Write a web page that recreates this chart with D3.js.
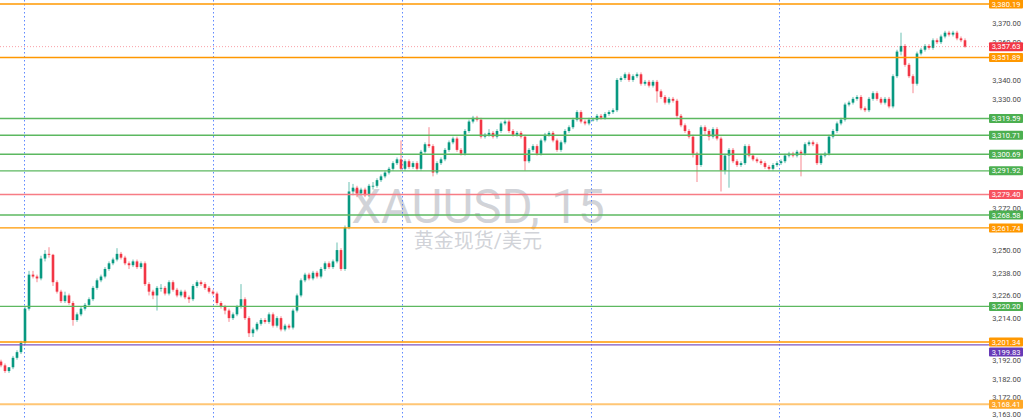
<!DOCTYPE html>
<html>
<head>
<meta charset="utf-8">
<script src="https://cdn.jsdelivr.net/npm/d3@7/dist/d3.min.js"></script>
<style>
  html, body { margin: 0; padding: 0; background: #ffffff; }
  svg { display: block; }
</style>
</head>
<body>
<div id="chart"></div>
<script>
// ---------------- DATA ----------------
const symbolTitle = "XAUUSD, 15";
const symbolSubtitle = "黄金现货/美元";

const opens = [
3191,3189,3186,3188,3193,3196,3201,3219,3237,3236,
3235,3245.5,3248,3247.5,3233,3228,3223,3226,3222,3213,
3216,3219,3221,3224,3230,3234,3236,3240,3243,3245,
3248,3246,3243,3242,3244,3241,3243,3232,3228,3226,
3230,3230,3227,3233,3229,3226,3228,3225,3224,3231,
3233,3232,3230,3228,3227,3222,3220,3218,3214,3216,
3220,3224,3214,3206,3208,3211,3213,3212,3216,3210,
3214,3208,3210,3209,3218,3226,3234,3237,3235,3238,
3236,3240,3243,3241,3244,3250,3240,3262,3281,3283,
3280,3282,3279,3284,3284,3287,3289,3291,3293,3296,
3298,3293,3297,3294,3296,3293,3302,3306,3305,3291,
3296,3298,3303,3307,3309,3303,3301,3313,3318,3320,
3319,3310,3311,3312,3310,3313,3317,3318,3313,3311,
3312,3310,3297,3303,3305,3301,3308,3311,3312,3308,
3303,3307,3313,3315,3319,3323,3318,3317,3319,3319,
3321,3320,3322,3323,3324,3340,3341,3343,3340,3342,
3343,3338,3339,3337,3339,3334,3331,3328,3330,3329,
3321,3316,3313,3310,3301,3295,3315,3313,3310,3314,
3309,3292,3300,3303,3297,3295,3296,3305,3300,3298,
3297,3296,3294,3293,3295,3296,3297,3300,3301,3300,
3302,3301,3306,3307,3306,3296,3300,3301,3310,3313,
3317,3319,3327,3328,3330,3331,3325,3324,3330,3333,
3330,3328,3330,3326,3342,3355,3358,3348,3342,3338,
3354,3356,3358,3357,3361,3360,3363,3365,3364,3365,
3362,3361];

const highs = [
3192,3190,3188,3194,3197,3202,3220,3239,3239,3237,
3247,3250,3251.5,3248,3234,3229,3228,3227,3223,3217,
3220,3222,3225,3231,3235,3237,3241,3244,3246,3251,
3249,3247,3244,3245,3245,3244,3244,3233,3229,3231,
3232,3231,3234,3234,3230,3229,3229,3226,3232,3234,
3234,3233,3231,3229,3228,3223,3221,3219,3217,3221,
3232,3225,3215,3209,3212,3214,3214,3217,3217,3215,
3215,3211,3211,3219,3227,3235,3238,3238,3239,3239,
3241,3244,3244,3245,3254,3251,3263,3286,3285,3284,
3283,3283,3285,3286,3288,3290,3292,3294,3297,3299,
3308,3298,3298,3297,3297,3303,3307,3315,3306,3297,
3299,3304,3308,3310,3310,3304,3314,3319,3321,3321,
3320,3312,3314,3313,3314,3318,3319,3319,3314,3313,
3313,3311,3304,3306,3306,3309,3312,3313,3313,3309,
3308,3314,3316,3320,3324,3324,3319,3320,3320,3322,
3322,3323,3324,3325,3341,3342,3344,3344,3343,3344,
3344,3340,3340,3340,3340,3335,3332,3331,3331,3330,
3322,3317,3314,3311,3302,3316,3316,3314,3315,3315,
3310,3301,3304,3304,3298,3297,3306,3306,3301,3299,
3298,3297,3295,3296,3297,3298,3301,3302,3302,3303,
3303,3307,3308,3308,3307,3301,3302,3311,3314,3318,
3320,3328,3329,3331,3332,3332,3326,3331,3334,3334,
3331,3331,3331,3343,3356,3365,3359,3349,3343,3355,
3357,3359,3359,3362,3362,3364,3366,3366,3366,3366,
3363,3362];

const lows = [
3188,3185,3185,3187,3192,3195,3200,3218,3235,3233,
3234,3244,3246,3231,3227,3222,3222,3221,3210,3212,
3215,3218,3220,3223,3229,3233,3235,3239,3242,3244,
3245,3242,3240,3241,3240,3240,3231,3226,3224,3218,
3228,3226,3226,3228,3225,3225,3224,3222,3223,3230,
3231,3229,3227,3226,3221,3219,3216,3212,3213,3215,
3219,3213,3204,3204,3207,3210,3211,3211,3209,3209,
3207,3207,3208,3208,3217,3225,3233,3234,3234,3235,
3235,3239,3240,3240,3243,3239,3239,3261,3279,3278,
3279,3278,3278,3282,3283,3286,3288,3290,3292,3295,
3292,3292,3293,3293,3292,3292,3301,3304,3289,3290,
3295,3297,3302,3306,3302,3300,3300,3312,3317,3318,
3309,3309,3310,3309,3309,3312,3316,3312,3310,3310,
3309,3292,3296,3302,3300,3300,3307,3310,3307,3302,
3302,3306,3312,3314,3318,3317,3316,3316,3318,3318,
3319,3319,3321,3322,3323,3339,3340,3339,3339,3341,
3337,3337,3336,3336,3328,3330,3327,3327,3328,3320,
3315,3312,3309,3299,3286,3294,3311,3308,3309,3308,
3281,3290,3283,3296,3294,3294,3295,3299,3297,3296,
3295,3293,3292,3292,3294,3295,3296,3299,3299,3299,
3289,3300,3305,3305,3295,3295,3299,3300,3309,3312,
3316,3318,3326,3327,3329,3324,3323,3323,3329,3329,
3327,3327,3325,3325,3341,3353,3347,3341,3333,3337,
3353,3355,3356,3356,3359,3359,3362,3363,3363,3361,
3360,3357];

const closes = [
3189,3186,3188,3193,3196,3201,3219,3237,3236,3235,
3245.5,3248,3247.5,3233,3228,3223,3226,3222,3213,3216,
3219,3221,3224,3230,3234,3236,3240,3243,3245,3248,
3246,3243,3242,3244,3241,3243,3232,3228,3226,3230,
3230,3227,3233,3229,3226,3228,3225,3224,3231,3233,
3232,3230,3228,3227,3222,3220,3218,3214,3216,3220,
3224,3214,3206,3208,3211,3213,3212,3216,3210,3214,
3208,3210,3209,3218,3226,3234,3237,3235,3238,3236,
3240,3243,3241,3244,3250,3240,3262,3281,3283,3280,
3282,3279,3284,3284,3287,3289,3291,3293,3296,3298,
3293,3297,3294,3296,3293,3302,3306,3305,3291,3296,
3298,3303,3307,3309,3303,3301,3313,3318,3320,3319,
3310,3311,3312,3310,3313,3317,3318,3313,3311,3312,
3310,3297,3303,3305,3301,3308,3311,3312,3308,3303,
3307,3313,3315,3319,3323,3318,3317,3319,3319,3321,
3320,3322,3323,3324,3340,3341,3343,3340,3342,3343,
3338,3339,3337,3339,3334,3331,3328,3330,3329,3321,
3316,3313,3310,3301,3295,3315,3313,3310,3314,3309,
3292,3300,3303,3297,3295,3296,3305,3300,3298,3297,
3296,3294,3293,3295,3296,3297,3300,3301,3300,3302,
3301,3306,3307,3306,3296,3300,3301,3310,3313,3317,
3319,3327,3328,3330,3331,3325,3324,3330,3333,3330,
3328,3330,3326,3342,3355,3358,3348,3342,3338,3354,
3356,3358,3357,3361,3360,3363,3365,3364,3365,3362,
3361,3357.63];

// horizontal price levels (drawn lines) and their kinds
const levelValues = [3380.19, 3351.89, 3319.59, 3310.71, 3300.69, 3291.92, 3279.40, 3268.58, 3261.74, 3220.20, 3201.34, 3199.83, 3168.41];
const levelKinds  = ["orange", "orange", "green", "green", "green", "green", "red", "green", "orange", "green", "orange", "purple", "lightorange"];

const lastPrice = 3357.63;

// price-axis tick labels
const tickValues = [3370, 3360, 3340, 3330, 3272, 3250, 3238, 3226, 3214, 3192, 3182, 3172, 3163];

// time grid positions (in bar index units)
const timeGridIdx = [5.83, 53.0, 100.2, 147.5, 194.6];

// ---------------- DRAWING ----------------
const W = 1024, H = 420;
const plotRight = 989;
const FONT = "Roboto, 'Noto Sans', 'Noto Sans CJK SC', sans-serif";

const kindColor = {
  orange: "#ff9800",
  lightorange: "#ffa726",
  green: "#4caf50",
  red: "#f7525f",
  purple: "#673ab7"
};
const kindLine = {
  orange: "#ff9800",
  lightorange: "#ffc675",
  green: "#5cb860",
  red: "#f77c85",
  purple: "#7e57c2"
};

const svg = d3.select("#chart").append("svg")
  .attr("width", W).attr("height", H)
  .style("font-family", FONT);

svg.append("rect").attr("width", W).attr("height", H).attr("fill", "#ffffff");

const y = d3.scaleLinear().domain([3160.1, 3382.3]).range([H, 0]);
const x = d3.scaleLinear().domain([0, closes.length - 1]).range([1, 965]);

const candles = closes.map((c, i) => ({ i, o: opens[i], h: highs[i], l: lows[i], c }));

// watermark
svg.append("text")
  .attr("x", 478).attr("y", 223)
  .attr("text-anchor", "middle")
  .attr("font-size", 47.5)
  .attr("fill", "#c9cbd1")
  .attr("fill-opacity", 0.85)
  .text(symbolTitle);
svg.append("text")
  .attr("x", 478).attr("y", 248)
  .attr("text-anchor", "middle")
  .attr("font-size", 20)
  .attr("fill", "#c9cbd1")
  .attr("fill-opacity", 0.85)
  .text(symbolSubtitle);

// vertical time grid (dotted blue)
svg.append("g").selectAll("line").data(timeGridIdx).join("line")
  .attr("x1", d => Math.round(x(d)) + 0.5).attr("x2", d => Math.round(x(d)) + 0.5)
  .attr("y1", 0).attr("y2", H)
  .attr("stroke", "#2962ff")
  .attr("stroke-opacity", 0.75)
  .attr("stroke-width", 1)
  .attr("stroke-dasharray", "1.5,2.5");

// candles
const up = "#089981", down = "#f23645";
const cg = svg.append("g");
const bodyW = 2.6;
cg.selectAll("line.wick").data(candles).join("line")
  .attr("class", "wick")
  .attr("x1", d => x(d.i)).attr("x2", d => x(d.i))
  .attr("y1", d => y(d.h)).attr("y2", d => y(d.l))
  .attr("stroke", d => d.c >= d.o ? up : down)
  .attr("stroke-opacity", 0.75)
  .attr("stroke-width", 0.8);
cg.selectAll("rect.body").data(candles).join("rect")
  .attr("class", "body")
  .attr("x", d => x(d.i) - bodyW / 2)
  .attr("width", bodyW)
  .attr("y", d => y(Math.max(d.o, d.c)))
  .attr("height", d => Math.max(0.8, Math.abs(y(d.o) - y(d.c))))
  .attr("fill", d => d.c >= d.o ? up : down);

// horizontal level lines
const levels = levelValues.map((v, k) => ({ v, kind: levelKinds[k] }));
svg.append("g").selectAll("line").data(levels).join("line")
  .attr("x1", 0).attr("x2", plotRight)
  .attr("y1", d => y(d.v)).attr("y2", d => y(d.v))
  .attr("stroke", d => kindLine[d.kind])
  .attr("stroke-width", d => d.kind === "lightorange" ? 2 : 1.4);

// current price dotted line
svg.append("line")
  .attr("x1", 0).attr("x2", plotRight)
  .attr("y1", y(lastPrice)).attr("y2", y(lastPrice))
  .attr("stroke", "#f23645")
  .attr("stroke-opacity", 0.6)
  .attr("stroke-width", 0.8)
  .attr("stroke-dasharray", "1,2");

// axis tick labels
const fmt = d3.format(",.2f");
const axisG = svg.append("g").attr("transform", `translate(${W - 3},0)`);
const axis = d3.axisRight(y).tickValues(tickValues).tickFormat(fmt).tickSize(0).tickPadding(0);
axisG.call(axis);
axisG.select(".domain").remove();
axisG.selectAll("text")
  .attr("text-anchor", "end")
  .attr("x", 0)
  .attr("font-size", 7.5)
  .attr("font-family", FONT)
  .attr("fill", "#4a4a4a");

// price label boxes
const labelItems = levels.map(d => ({ v: d.v, color: kindColor[d.kind] }))
  .concat([{ v: lastPrice, color: "#f23645" }])
  .sort((a, b) => b.v - a.v);
labelItems.forEach(d => { d.ly = y(d.v); });
for (let k = 1; k < labelItems.length; k++) {
  const prev = labelItems[k - 1];
  if (labelItems[k].ly - prev.ly < 10) labelItems[k].ly = prev.ly + 10;
}
const boxW = 34, boxH = 9;
const lg = svg.append("g").selectAll("g").data(labelItems).join("g")
  .attr("transform", d => `translate(${plotRight},${d.ly})`);
lg.append("rect")
  .attr("x", 0).attr("y", -boxH / 2)
  .attr("width", boxW).attr("height", boxH)
  .attr("rx", 1)
  .attr("fill", d => d.color);
lg.append("text")
  .attr("x", boxW / 2).attr("y", 0)
  .attr("dy", "0.35em")
  .attr("text-anchor", "middle")
  .attr("font-size", 7.5)
  .attr("fill", "#ffffff")
  .text(d => fmt(d.v));
</script>
</body>
</html>
